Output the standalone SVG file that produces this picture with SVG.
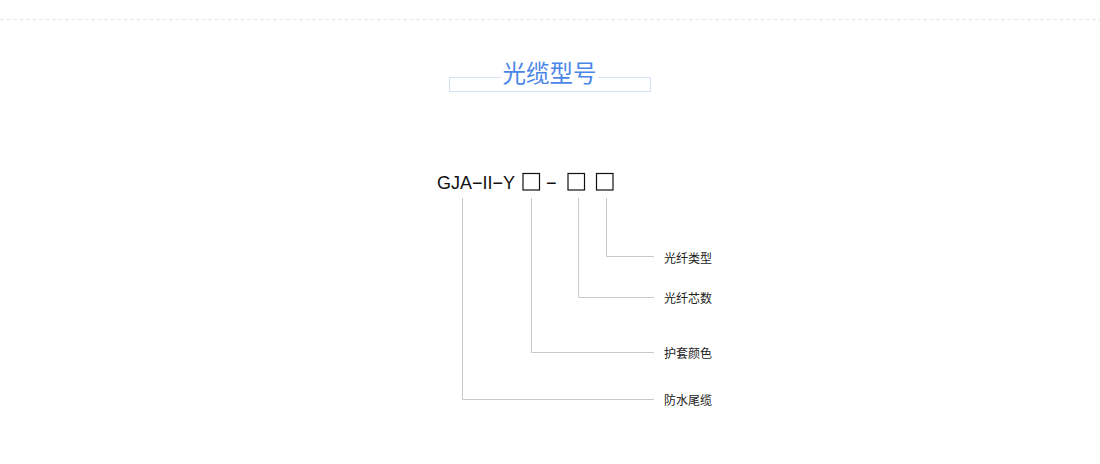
<svg xmlns="http://www.w3.org/2000/svg" width="1100" height="464" viewBox="0 0 1100 464">
<style>
.lead{fill:none;stroke:#c8c8c8;stroke-width:1}
.lbl{font-family:"Liberation Sans","Noto Sans CJK SC",sans-serif;font-size:12px;fill:#222}
.box{fill:#fff;stroke:#111;stroke-width:1.2}
</style>
<rect width="1100" height="464" fill="#fff"/>
<line x1="0" y1="19.5" x2="1100" y2="19.5" stroke="#e6e6e6" stroke-width="1" stroke-dasharray="4 2.5"/>
<g id="title">
<rect x="449.5" y="77.5" width="201" height="14" fill="none" stroke="#d3e1f5" stroke-width="1"/>
<rect x="501" y="72" width="97" height="8" fill="#fff"/>
<text x="549.5" y="82" text-anchor="middle" font-family="'Noto Sans CJK SC',sans-serif" font-size="23.5" fill="#4a86e8">光缆型号</text>
</g>
<g id="model">
<text x="437" y="189" font-family="'Liberation Sans',Arial,sans-serif" font-size="18" fill="#111">GJA−II−Y</text>
<rect class="box" x="523" y="173.5" width="16.5" height="16.5"/>
<text x="546" y="189" font-family="'Liberation Sans',Arial,sans-serif" font-size="18" fill="#111">−</text>
<rect class="box" x="568" y="173.5" width="16.5" height="16.5"/>
<rect class="box" x="596.5" y="173.5" width="16.5" height="16.5"/>
</g>
<g id="connectors">
<polyline class="lead" points="606.5,198 606.5,256.5 654,256.5"/>
<polyline class="lead" points="578.5,198 578.5,297.5 654,297.5"/>
<polyline class="lead" points="531.5,198 531.5,352.5 654,352.5"/>
<polyline class="lead" points="462.5,198 462.5,399.5 654,399.5"/>
</g>
<g id="fiber-type"><text class="lbl" x="664" y="263">光纤类型</text></g>
<g id="fiber-count"><text class="lbl" x="664" y="303">光纤芯数</text></g>
<g id="sheath-color"><text class="lbl" x="664" y="358">护套颜色</text></g>
<g id="waterproof"><text class="lbl" x="664" y="405">防水尾缆</text></g>
</svg>
